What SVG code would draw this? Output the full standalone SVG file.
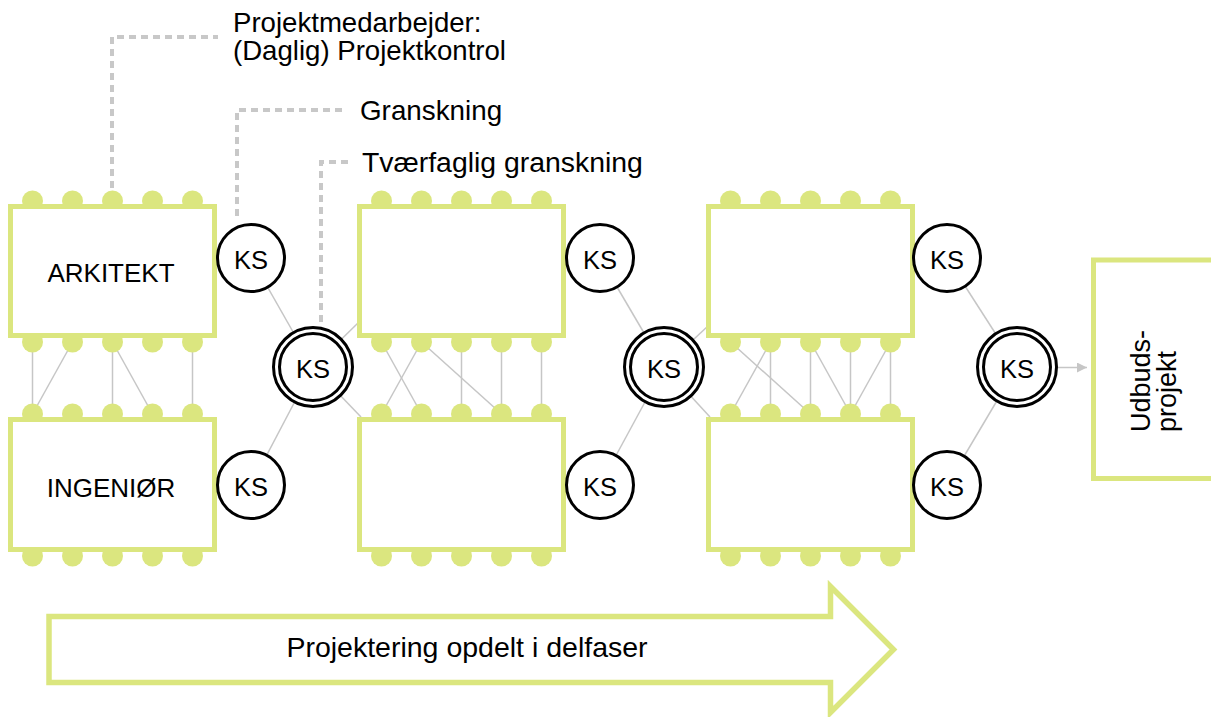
<svg xmlns="http://www.w3.org/2000/svg" width="1211" height="717" viewBox="0 0 1211 717">
<style>
  .box { fill: #ffffff; stroke: #dbe67f; stroke-width: 5; }
  .bump { fill: #dbe67f; }
  .ln { stroke: #c6c6c6; stroke-width: 1.5; fill: none; }
  .dash { stroke: #c8c8c8; stroke-width: 4; stroke-dasharray: 7 5; fill: none; }
  .ks { fill: #ffffff; stroke: #000000; stroke-width: 3; }
  .t { font-family: "Liberation Sans", Arial, sans-serif; fill: #000000; }
  .kst { font-family: "Liberation Sans", Arial, sans-serif; font-size: 25.5px; text-anchor: middle; fill: #000000; }
</style>
<defs>
  <marker id="ah" viewBox="0 0 10 10" refX="10" refY="5" markerWidth="10" markerHeight="10" markerUnits="userSpaceOnUse" orient="auto">
    <path d="M0,0 L10,5 L0,10 Z" fill="#c6c6c6"/>
  </marker>
</defs>
<rect width="1211" height="717" fill="#ffffff"/>

<g id="connectors">
  <path class="dash" d="M112,188 V37 H218"/>
  <path class="dash" d="M237,216 V110 H346"/>
  <path class="dash" d="M321,322 V162 H350"/>
  <line class="ln" x1="32.5" y1="342" x2="32.5" y2="414"/>
  <line class="ln" x1="72.5" y1="342" x2="32.5" y2="414"/>
  <line class="ln" x1="112.5" y1="342" x2="112.5" y2="414"/>
  <line class="ln" x1="112.5" y1="342" x2="152.5" y2="414"/>
  <line class="ln" x1="192.5" y1="342" x2="192.5" y2="414"/>
  <line class="ln" x1="381.5" y1="342" x2="421.5" y2="414"/>
  <line class="ln" x1="421.5" y1="342" x2="381.5" y2="414"/>
  <line class="ln" x1="421.5" y1="342" x2="501.5" y2="414"/>
  <line class="ln" x1="461.5" y1="342" x2="461.5" y2="414"/>
  <line class="ln" x1="501.5" y1="342" x2="501.5" y2="414"/>
  <line class="ln" x1="541.5" y1="342" x2="541.5" y2="414"/>
  <line class="ln" x1="730.5" y1="342" x2="810.5" y2="414"/>
  <line class="ln" x1="770.5" y1="342" x2="730.5" y2="414"/>
  <line class="ln" x1="770.5" y1="342" x2="770.5" y2="414"/>
  <line class="ln" x1="810.5" y1="342" x2="810.5" y2="414"/>
  <line class="ln" x1="810.5" y1="342" x2="850.5" y2="414"/>
  <line class="ln" x1="850.5" y1="342" x2="850.5" y2="414"/>
  <line class="ln" x1="890.5" y1="342" x2="850.5" y2="414"/>
  <line class="ln" x1="890.5" y1="342" x2="890.5" y2="414"/>
  <line class="ln" x1="251" y1="258" x2="313" y2="367"/>
  <line class="ln" x1="251" y1="485" x2="313" y2="367"/>
  <line class="ln" x1="313" y1="367" x2="359" y2="322"/>
  <line class="ln" x1="313" y1="367" x2="361" y2="417"/>
  <line class="ln" x1="600" y1="258" x2="664" y2="367"/>
  <line class="ln" x1="600" y1="485" x2="664" y2="367"/>
  <line class="ln" x1="664" y1="367" x2="708" y2="326"/>
  <line class="ln" x1="664" y1="367" x2="710" y2="417"/>
  <line class="ln" x1="947" y1="258" x2="1017" y2="367"/>
  <line class="ln" x1="947" y1="485" x2="1017" y2="367"/>
  <line class="ln" x1="1058" y1="367.5" x2="1087" y2="367.5" marker-end="url(#ah)"/>
</g>

<g id="arkitekt">
  <circle class="bump" cx="32.5" cy="201" r="10.5"/><circle class="bump" cx="72.5" cy="201" r="10.5"/><circle class="bump" cx="112.5" cy="201" r="10.5"/><circle class="bump" cx="152.5" cy="201" r="10.5"/><circle class="bump" cx="192.5" cy="201" r="10.5"/>
  <circle class="bump" cx="32.5" cy="342" r="10.5"/><circle class="bump" cx="72.5" cy="342" r="10.5"/><circle class="bump" cx="112.5" cy="342" r="10.5"/><circle class="bump" cx="152.5" cy="342" r="10.5"/><circle class="bump" cx="192.5" cy="342" r="10.5"/>
  <rect class="box" x="10.5" y="206.5" width="204" height="129"/>
  <text class="t" x="111" y="282" font-size="26" text-anchor="middle">ARKITEKT</text>
</g>
<g id="ingenioer">
  <circle class="bump" cx="32.5" cy="414" r="10.5"/><circle class="bump" cx="72.5" cy="414" r="10.5"/><circle class="bump" cx="112.5" cy="414" r="10.5"/><circle class="bump" cx="152.5" cy="414" r="10.5"/><circle class="bump" cx="192.5" cy="414" r="10.5"/>
  <circle class="bump" cx="32.5" cy="556" r="10.5"/><circle class="bump" cx="72.5" cy="556" r="10.5"/><circle class="bump" cx="112.5" cy="556" r="10.5"/><circle class="bump" cx="152.5" cy="556" r="10.5"/><circle class="bump" cx="192.5" cy="556" r="10.5"/>
  <rect class="box" x="10.5" y="419.5" width="204" height="130"/>
  <text class="t" x="111" y="497" font-size="26" text-anchor="middle">INGENIØR</text>
</g>

<g id="phase2-top">
  <circle class="bump" cx="381.5" cy="201" r="10.5"/><circle class="bump" cx="421.5" cy="201" r="10.5"/><circle class="bump" cx="461.5" cy="201" r="10.5"/><circle class="bump" cx="501.5" cy="201" r="10.5"/><circle class="bump" cx="541.5" cy="201" r="10.5"/>
  <circle class="bump" cx="381.5" cy="342" r="10.5"/><circle class="bump" cx="421.5" cy="342" r="10.5"/><circle class="bump" cx="461.5" cy="342" r="10.5"/><circle class="bump" cx="501.5" cy="342" r="10.5"/><circle class="bump" cx="541.5" cy="342" r="10.5"/>
  <rect class="box" x="359.5" y="206.5" width="204" height="129"/>
</g>
<g id="phase2-bottom">
  <circle class="bump" cx="381.5" cy="414" r="10.5"/><circle class="bump" cx="421.5" cy="414" r="10.5"/><circle class="bump" cx="461.5" cy="414" r="10.5"/><circle class="bump" cx="501.5" cy="414" r="10.5"/><circle class="bump" cx="541.5" cy="414" r="10.5"/>
  <circle class="bump" cx="381.5" cy="556" r="10.5"/><circle class="bump" cx="421.5" cy="556" r="10.5"/><circle class="bump" cx="461.5" cy="556" r="10.5"/><circle class="bump" cx="501.5" cy="556" r="10.5"/><circle class="bump" cx="541.5" cy="556" r="10.5"/>
  <rect class="box" x="359.5" y="419.5" width="204" height="130"/>
</g>

<g id="phase3-top">
  <circle class="bump" cx="730.5" cy="201" r="10.5"/><circle class="bump" cx="770.5" cy="201" r="10.5"/><circle class="bump" cx="810.5" cy="201" r="10.5"/><circle class="bump" cx="850.5" cy="201" r="10.5"/><circle class="bump" cx="890.5" cy="201" r="10.5"/>
  <circle class="bump" cx="730.5" cy="342" r="10.5"/><circle class="bump" cx="770.5" cy="342" r="10.5"/><circle class="bump" cx="810.5" cy="342" r="10.5"/><circle class="bump" cx="850.5" cy="342" r="10.5"/><circle class="bump" cx="890.5" cy="342" r="10.5"/>
  <rect class="box" x="708.5" y="206.5" width="204" height="129"/>
</g>
<g id="phase3-bottom">
  <circle class="bump" cx="730.5" cy="414" r="10.5"/><circle class="bump" cx="770.5" cy="414" r="10.5"/><circle class="bump" cx="810.5" cy="414" r="10.5"/><circle class="bump" cx="850.5" cy="414" r="10.5"/><circle class="bump" cx="890.5" cy="414" r="10.5"/>
  <circle class="bump" cx="730.5" cy="556" r="10.5"/><circle class="bump" cx="770.5" cy="556" r="10.5"/><circle class="bump" cx="810.5" cy="556" r="10.5"/><circle class="bump" cx="850.5" cy="556" r="10.5"/><circle class="bump" cx="890.5" cy="556" r="10.5"/>
  <rect class="box" x="708.5" y="419.5" width="204" height="130"/>
</g>

<g id="ks1-top"><circle class="ks" cx="251" cy="258" r="33.5"/><text class="kst" x="251" y="269">KS</text></g>
<g id="ks1-bottom"><circle class="ks" cx="251" cy="485" r="33.5"/><text class="kst" x="251" y="496">KS</text></g>
<g id="ks1-joint"><circle class="ks" cx="313" cy="367" r="39.5"/><circle class="ks" cx="313" cy="367" r="33.5"/><text class="kst" x="313" y="378">KS</text></g>

<g id="ks2-top"><circle class="ks" cx="600" cy="258" r="33.5"/><text class="kst" x="600" y="269">KS</text></g>
<g id="ks2-bottom"><circle class="ks" cx="600" cy="485" r="33.5"/><text class="kst" x="600" y="496">KS</text></g>
<g id="ks2-joint"><circle class="ks" cx="664" cy="367" r="39.5"/><circle class="ks" cx="664" cy="367" r="33.5"/><text class="kst" x="664" y="378">KS</text></g>

<g id="ks3-top"><circle class="ks" cx="947" cy="258" r="33.5"/><text class="kst" x="947" y="269">KS</text></g>
<g id="ks3-bottom"><circle class="ks" cx="947" cy="485" r="33.5"/><text class="kst" x="947" y="496">KS</text></g>
<g id="ks3-joint"><circle class="ks" cx="1017" cy="367" r="39.5"/><circle class="ks" cx="1017" cy="367" r="33.5"/><text class="kst" x="1017" y="378">KS</text></g>

<g id="udbudsprojekt">
  <rect class="box" x="1093.5" y="260" width="160" height="218.5"/>
  <text class="t" font-size="27" transform="translate(1150,432) rotate(-90)">Udbuds-</text>
  <text class="t" font-size="27" transform="translate(1175.5,432) rotate(-90)">projekt</text>
</g>

<g id="labels">
  <text class="t" x="233" y="32" font-size="27.6">Projektmedarbejder:</text>
  <text class="t" x="233" y="60" font-size="27.6">(Daglig) Projektkontrol</text>
  <text class="t" x="360" y="120" font-size="27.8">Granskning</text>
  <text class="t" x="362" y="172" font-size="28.4">Tværfaglig granskning</text>
</g>

<g id="phase-arrow">
  <polygon points="49,616.5 830.5,616.5 830.5,586.5 893.5,649.5 830.5,712.5 830.5,682.5 49,682.5" fill="#ffffff" stroke="#dbe67f" stroke-width="5.5"/>
  <text class="t" x="467" y="657" font-size="28.5" text-anchor="middle">Projektering opdelt i delfaser</text>
</g>
</svg>
